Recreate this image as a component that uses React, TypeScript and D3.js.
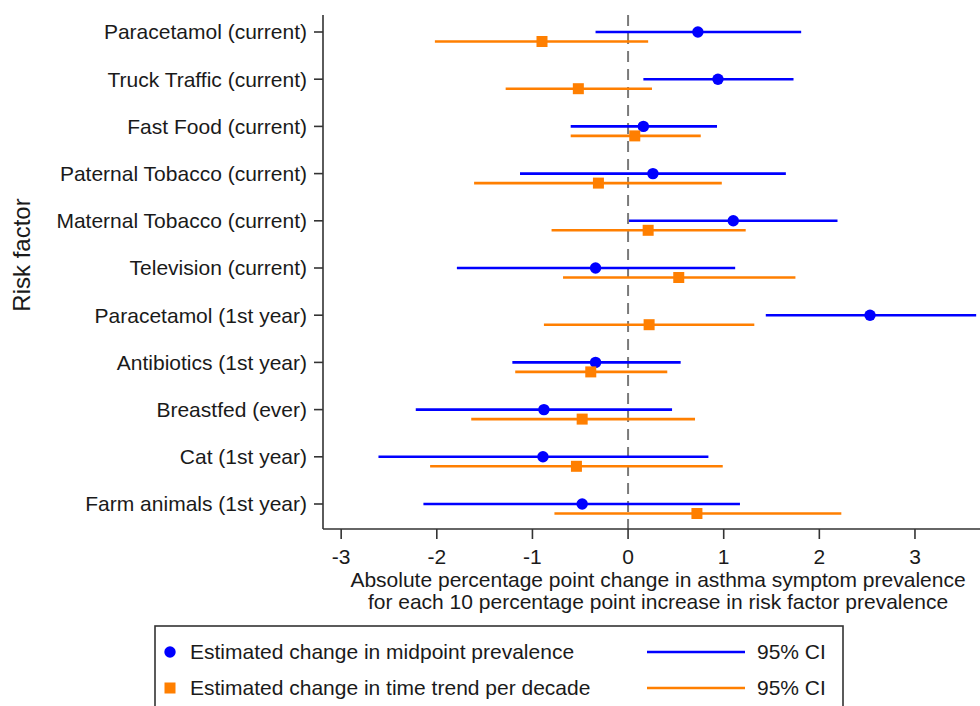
import React from "react";
import * as d3 from "d3";

const categories = [
  "Paracetamol (current)",
  "Truck Traffic (current)",
  "Fast Food (current)",
  "Paternal Tobacco (current)",
  "Maternal Tobacco (current)",
  "Television (current)",
  "Paracetamol (1st year)",
  "Antibiotics (1st year)",
  "Breastfed (ever)",
  "Cat (1st year)",
  "Farm animals (1st year)",
];

const midEst = [0.73, 0.94, 0.16, 0.26, 1.1, -0.34, 2.53, -0.34, -0.88, -0.89, -0.48];
const midLo = [-0.34, 0.16, -0.6, -1.13, 0.01, -1.79, 1.44, -1.21, -2.22, -2.61, -2.14];
const midHi = [1.81, 1.73, 0.93, 1.65, 2.19, 1.12, 3.64, 0.55, 0.46, 0.84, 1.17];

const trendEst = [-0.9, -0.52, 0.07, -0.31, 0.21, 0.53, 0.22, -0.39, -0.48, -0.54, 0.72];
const trendLo = [-2.02, -1.28, -0.6, -1.61, -0.8, -0.68, -0.88, -1.18, -1.64, -2.07, -0.77];
const trendHi = [0.21, 0.25, 0.76, 0.98, 1.23, 1.75, 1.32, 0.41, 0.7, 0.99, 2.23];

const xTicks = [-3, -2, -1, 0, 1, 2, 3];

const BLUE = "#0000ff";
const ORANGE = "#ff7f00";
const FONT = "'Liberation Sans', Arial, sans-serif";
const FS = 21;

export default function App() {
  const W = 980;
  const H = 706;
  const left = 323;
  const right = 980;
  const top = 15;
  const bottom = 529;

  const x = d3.scaleLinear().domain([-3.19, 3.68]).range([left, right]);
  const y = d3.scalePoint<string>().domain(categories).range([32, 504]);
  const off = 9.5;

  return (
    <svg
      width={W}
      height={H}
      style={{ position: "absolute", left: 0, top: 0, display: "block", background: "#fff" }}
      fontFamily={FONT}
    >
      <defs>
        <clipPath id="plotclip">
          <rect x={left} y={0} width={right - left} height={bottom} />
        </clipPath>
      </defs>
      <rect x={0} y={0} width={W} height={H} fill="#fff" />

      {/* reference line */}
      <line
        x1={x(0)}
        x2={x(0)}
        y1={top}
        y2={bottom}
        stroke="#7a7a7a"
        strokeWidth={2}
        strokeDasharray="11,7"
      />

      <g clipPath="url(#plotclip)">
        {categories.map((c, i) => {
          const yc = y(c) as number;
          return (
            <g key={c}>
              <line x1={x(midLo[i])} x2={x(midHi[i])} y1={yc} y2={yc} stroke={BLUE} strokeWidth={2.6} />
              <line
                x1={x(trendLo[i])}
                x2={x(trendHi[i])}
                y1={yc + off}
                y2={yc + off}
                stroke={ORANGE}
                strokeWidth={2.6}
              />
            </g>
          );
        })}
        {categories.map((c, i) => {
          const yc = y(c) as number;
          return (
            <g key={c + "m"}>
              <circle cx={x(midEst[i])} cy={yc} r={5.7} fill={BLUE} />
              <rect x={x(trendEst[i]) - 5.5} y={yc + off - 5.5} width={11} height={11} fill={ORANGE} />
            </g>
          );
        })}
      </g>

      {/* axes */}
      <line x1={left} x2={left} y1={top} y2={bottom} stroke="#333" strokeWidth={1.6} />
      <line x1={left} x2={right} y1={bottom} y2={bottom} stroke="#333" strokeWidth={1.6} />

      {categories.map((c) => {
        const yc = y(c) as number;
        return (
          <g key={c + "t"}>
            <line x1={left - 9} x2={left} y1={yc} y2={yc} stroke="#333" strokeWidth={1.6} />
            <text x={left - 16} y={yc} dy="0.35em" textAnchor="end" fontSize={FS} fill="#1a1a1a">
              {c}
            </text>
          </g>
        );
      })}

      {xTicks.map((t) => (
        <g key={"x" + t}>
          <line x1={x(t)} x2={x(t)} y1={bottom} y2={bottom + 10} stroke="#333" strokeWidth={1.6} />
          <text x={x(t)} y={564} textAnchor="middle" fontSize={FS} fill="#1a1a1a">
            {t}
          </text>
        </g>
      ))}

      <text
        transform={`translate(30,255) rotate(-90)`}
        textAnchor="middle"
        fontSize={24}
        fill="#1a1a1a"
      >
        Risk factor
      </text>

      <text x={658} y={587} textAnchor="middle" fontSize={FS} fill="#1a1a1a">
        Absolute percentage point change in asthma symptom prevalence
      </text>
      <text x={658} y={609} textAnchor="middle" fontSize={FS} fill="#1a1a1a">
        for each 10 percentage point increase in risk factor prevalence
      </text>

      {/* legend */}
      <rect x={155} y={626} width={688} height={100} fill="none" stroke="#333" strokeWidth={1.6} />
      <circle cx={170} cy={652} r={5.7} fill={BLUE} />
      <text x={190} y={652} dy="0.35em" fontSize={FS} fill="#1a1a1a">
        Estimated change in midpoint prevalence
      </text>
      <line x1={647} x2={745} y1={652} y2={652} stroke={BLUE} strokeWidth={2.6} />
      <text x={757} y={652} dy="0.35em" fontSize={FS} fill="#1a1a1a">
        95% CI
      </text>
      <rect x={164.5} y={682.5} width={11} height={11} fill={ORANGE} />
      <text x={190} y={688} dy="0.35em" fontSize={FS} fill="#1a1a1a">
        Estimated change in time trend per decade
      </text>
      <line x1={647} x2={745} y1={688} y2={688} stroke={ORANGE} strokeWidth={2.6} />
      <text x={757} y={688} dy="0.35em" fontSize={FS} fill="#1a1a1a">
        95% CI
      </text>
    </svg>
  );
}
